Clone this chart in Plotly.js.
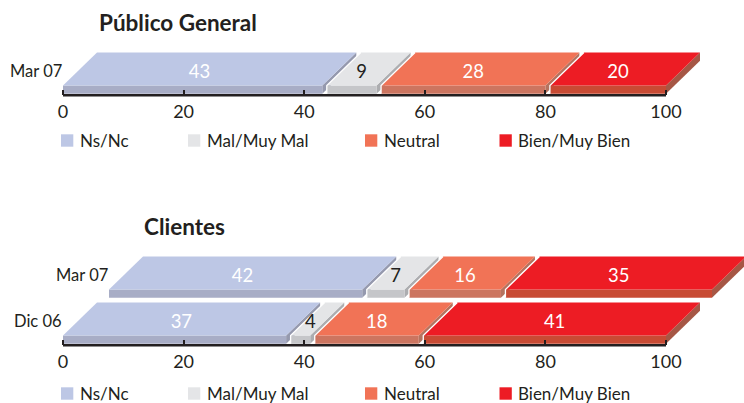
<!DOCTYPE html>
<html>
<head>
<meta charset="utf-8">
<script src="https://cdn.plot.ly/plotly-3.0.1.min.js"></script>
<style>html,body{margin:0;padding:0;background:#fff;}#chart{width:744px;height:403px;}</style>
</head>
<body>
<div id="chart"></div>
<script>
// ---------- data ----------
const seriesNames = ['Ns/Nc', 'Mal/Muy Mal', 'Neutral', 'Bien/Muy Bien'];
const panelTitles = ['Público General', 'Clientes'];
const pgRows = ['Mar 07'];
const pgNsNc = [43];
const pgMal = [9];
const pgNeutral = [28];
const pgBien = [20];
const clRows = ['Mar 07', 'Dic 06'];
const clNsNc = [42, 37];
const clMal = [7, 4];
const clNeutral = [16, 18];
const clBien = [35, 41];
const tickVals = [0, 20, 40, 60, 80, 100];

// ---------- style ----------
const W = 744, H = 403;
const X0PX = 63, PXU = 6.03;          // pixel of value 0, pixels per unit
const FONT = 'Lato, "Open Sans", sans-serif';
const TXT = '#231f20';
const topCol   = ['#bdc7e5', '#e4e5e7', '#f17356', '#ed1c24'];
const frontCol = ['#a8adc6', '#c5c6c9', '#cc7560', '#c84b34'];
const sideCol  = ['#9599ae', '#acadb0', '#b5735f', '#a65745'];
const labelCol = ['#ffffff', '#231f20', '#ffffff', '#ffffff'];
const DX = 34, DY = 33, FH = 8.3, YB = 1.5, GAP = 4.5, ROWSHIFT = 46;
const axisPx = [95.3, 345.3];
const domPx = [[0, 110], [180, 360]];

const xmin = -X0PX / PXU, xmax = (W - X0PX) / PXU;

const panels = [
  {rows: pgRows, series: [pgNsNc, pgMal, pgNeutral, pgBien]},
  {rows: clRows, series: [clNsNc, clMal, clNeutral, clBien]}
];

const shapes = [], annotations = [], traces = [];

function X(v, px) { return v + px / PXU; }
function pathOf(pts) { return 'M' + pts.map(p => p[0] + ',' + p[1]).join('L') + 'Z'; }

panels.forEach((pn, pi) => {
  const xr = pi === 0 ? 'x' : 'x2', yr = pi === 0 ? 'y' : 'y2';
  const nRows = pn.rows.length;
  const lx = [], ly = [], lt = [], lc = [];
  // back rows first
  pn.rows.forEach((rowName, ri) => {
    const s = (nRows - 1 - ri) * ROWSHIFT;
    let cum = 0;
    pn.series.forEach((ser, si) => {
      const a = cum, b = cum + ser[ri];
      cum = b;
      const aa = si > 0 ? X(a, GAP) : a;
      const y0 = s + YB, y1 = s + YB + FH, y2 = y1 + DY;
      const side = [[X(b, s), y0], [X(b, s + DX), y0 + DY], [X(b, s + DX), y2], [X(b, s), y1]];
      const front = [[X(aa, s), y0], [X(b, s), y0], [X(b, s), y1], [X(aa, s), y1]];
      const top = [[X(aa, s), y1], [X(b, s), y1], [X(b, s + DX), y2], [X(aa, s + DX), y2]];
      shapes.push({type: 'path', xref: xr, yref: yr, path: pathOf(side), fillcolor: sideCol[si], line: {width: 0}, layer: 'below'});
      shapes.push({type: 'path', xref: xr, yref: yr, path: pathOf(front), fillcolor: frontCol[si], line: {width: 0}, layer: 'below'});
      shapes.push({type: 'path', xref: xr, yref: yr, path: pathOf(top), fillcolor: topCol[si], line: {width: 0}, layer: 'below'});
      if (si > 0) {
        shapes.push({type: 'path', xref: xr, yref: yr,
          path: 'M' + X(aa, s) + ',' + y0 + 'L' + X(aa, s) + ',' + y1 + 'L' + X(aa, s + DX) + ',' + y2,
          line: {color: '#ffffff', width: 1.3}, layer: 'below'});
      }
      const f = si === 0 ? 0.2 : 0.36;
      lx.push(X((a + b) / 2, s + f * DX));
      ly.push(y1 + 0.38 * DY);
      lt.push(String(ser[ri]));
      lc.push(labelCol[si]);
    });
    annotations.push({xref: xr, yref: yr, x: X(0, s), y: s + YB + FH + 15, text: rowName,
      showarrow: false, xanchor: 'right', yanchor: 'middle', xshift: 1,
      font: {family: FONT, size: 16.5, color: TXT}});
  });
  traces.push({type: 'scatter', mode: 'text', x: lx, y: ly, text: lt, xaxis: xr, yaxis: yr,
    textposition: 'middle center', cliponaxis: false, hoverinfo: 'skip', showlegend: false,
    textfont: {family: FONT, size: 18.5, color: lc}});
  // axis baseline from 0 to 100
  shapes.push({type: 'line', xref: xr, yref: yr, x0: tickVals[0], x1: tickVals[tickVals.length - 1], y0: 0, y1: 0,
    line: {color: '#231f20', width: 2.6}, layer: 'below'});
});

// titles
const titlePx = [[98, 22.7], [143, 226.7]];
panelTitles.forEach((t, i) => {
  annotations.push({xref: 'paper', yref: 'paper', x: titlePx[i][0] / W, y: 1 - titlePx[i][1] / H,
    text: '<b>' + t + '</b>', showarrow: false, xanchor: 'left', yanchor: 'middle', xshift: -1,
    font: {family: FONT, size: 22.5, color: TXT, weight: 900}});
});

// legends
const legSqX = [61, 188, 365, 499.5];
const legY = [140.5, 393.5];
legY.forEach(cy => {
  seriesNames.forEach((n, i) => {
    shapes.push({type: 'rect', xref: 'paper', yref: 'paper',
      x0: legSqX[i] / W, x1: (legSqX[i] + 12.3) / W, y0: 1 - (cy + 6.2) / H, y1: 1 - (cy - 6.2) / H,
      fillcolor: topCol[i], line: {width: 0}});
    annotations.push({xref: 'paper', yref: 'paper', x: (legSqX[i] + 16.5) / W, y: 1 - cy / H,
      text: n, showarrow: false, xanchor: 'left', yanchor: 'middle',
      font: {family: FONT, size: 17, color: TXT}});
  });
});

function xAxis(pi) {
  return {domain: [0, 1], range: [xmin, xmax], anchor: 'free', position: 1 - axisPx[pi] / H,
    tickvals: tickVals, ticktext: tickVals.map(String), ticks: 'inside', ticklen: 5, tickwidth: 2,
    tickcolor: '#231f20', showgrid: false, zeroline: false, showline: false,
    tickfont: {family: FONT, size: 18, color: TXT}, ticklabelstandoff: 4, fixedrange: true};
}
function yAxis(pi) {
  const d = domPx[pi];
  return {domain: [1 - d[1] / H, 1 - d[0] / H], range: [axisPx[pi] - d[1], axisPx[pi] - d[0]],
    visible: false, fixedrange: true};
}

const layout = {
  width: W, height: H, margin: {l: 0, r: 0, t: 0, b: 0},
  paper_bgcolor: '#ffffff', plot_bgcolor: 'rgba(0,0,0,0)', showlegend: false,
  xaxis: xAxis(0), yaxis: yAxis(0),
  xaxis2: xAxis(1), yaxis2: yAxis(1),
  shapes: shapes, annotations: annotations
};

Plotly.newPlot('chart', traces, layout, {staticPlot: true, displayModeBar: false});
</script>
</body>
</html>
